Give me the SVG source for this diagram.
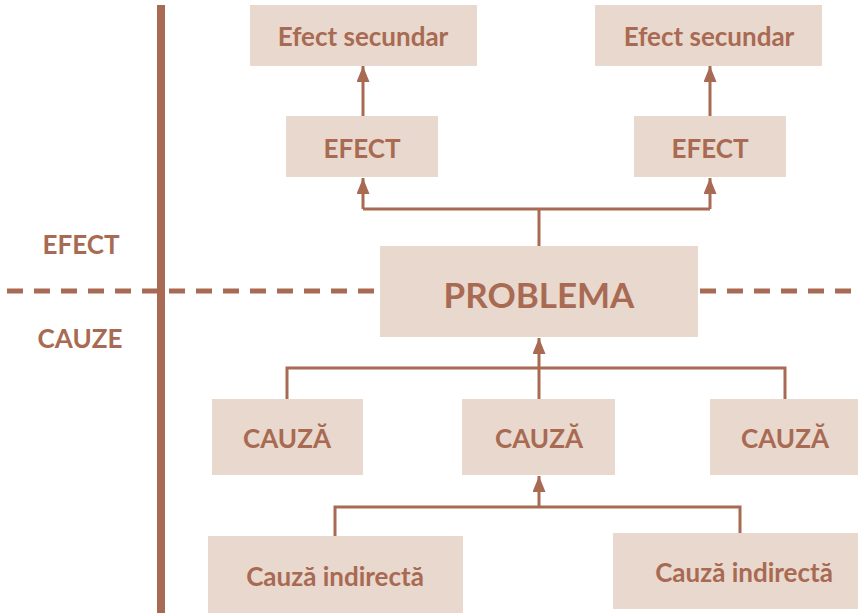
<svg xmlns="http://www.w3.org/2000/svg" width="858" height="613" viewBox="0 0 858 613">
  <style>
    .box { fill: #E8D8CD; }
    .t { font-family: Lato, "Open Sans", "Liberation Sans", sans-serif; font-weight: bold; fill: #A86A52; text-anchor: middle; }
    .s { font-size: 26px; }
    .big { font-size: 35px; }
    .conn { fill: none; stroke: #A86A52; stroke-width: 3; }
    .arrow { stroke: #A86A52; stroke-width: 3; marker-end: url(#ah); }
  </style>
  <defs>
    <marker id="ah" viewBox="0 0 10 10" refX="10" refY="5" markerUnits="userSpaceOnUse" markerWidth="16" markerHeight="13" preserveAspectRatio="none" orient="auto">
      <path d="M0,0 L10,5 L0,10 Z" fill="#A86A52"/>
    </marker>
  </defs>
  <rect width="858" height="613" fill="#FFFFFF"/>

  <!-- axis lines -->
  <g id="axes">
    <line x1="161" y1="5" x2="161" y2="613" stroke="#A86A52" stroke-width="8"/>
    <line x1="7" y1="291" x2="380" y2="291" stroke="#A86A52" stroke-width="5" stroke-dasharray="16 11"/>
    <line x1="700" y1="291" x2="858" y2="291" stroke="#A86A52" stroke-width="5" stroke-dasharray="16 11"/>
  </g>

  <g id="label-efect"><text class="t s" x="81" y="254">EFECT</text></g>
  <g id="label-cauze"><text class="t s" x="80" y="348">CAUZE</text></g>

  <!-- connectors -->
  <g id="connectors">
    <line class="arrow" x1="363" y1="116" x2="363" y2="66"/>
    <line class="arrow" x1="710" y1="116" x2="710" y2="66"/>
    <polyline class="conn" points="539,246 539,209"/>
    <polyline class="conn" points="363,209 710,209"/>
    <line class="arrow" x1="363" y1="209" x2="363" y2="178"/>
    <line class="arrow" x1="710" y1="209" x2="710" y2="178"/>
    <polyline class="conn" points="287,399 287,368 785,368 785,399"/>
    <line class="arrow" x1="539" y1="399" x2="539" y2="338"/>
    <polyline class="conn" points="335,536 335,507 740,507 740,533"/>
    <line class="arrow" x1="539" y1="507" x2="539" y2="476"/>
  </g>

  <g id="efect-secundar-1">
    <rect class="box" x="250" y="5" width="227" height="61"/>
    <text class="t s" x="363" y="46">Efect secundar</text>
  </g>
  <g id="efect-secundar-2">
    <rect class="box" x="595" y="5" width="227" height="61"/>
    <text class="t s" x="709" y="46">Efect secundar</text>
  </g>
  <g id="efect-1">
    <rect class="box" x="286" y="116" width="152" height="61"/>
    <text class="t s" x="362" y="158">EFECT</text>
  </g>
  <g id="efect-2">
    <rect class="box" x="634" y="116" width="152" height="61"/>
    <text class="t s" x="710" y="158">EFECT</text>
  </g>
  <g id="problema">
    <rect class="box" x="380" y="246" width="318" height="91"/>
    <text class="t big" x="539" y="308">PROBLEMA</text>
  </g>
  <g id="cauza-1">
    <rect class="box" x="212" y="399" width="151" height="76"/>
    <text class="t s" x="287" y="448">CAUZĂ</text>
  </g>
  <g id="cauza-2">
    <rect class="box" x="462" y="399" width="153" height="76"/>
    <text class="t s" x="539" y="448">CAUZĂ</text>
  </g>
  <g id="cauza-3">
    <rect class="box" x="710" y="399" width="148" height="76"/>
    <text class="t s" x="785" y="448">CAUZĂ</text>
  </g>
  <g id="cauza-indirecta-1">
    <rect class="box" x="208" y="536" width="255" height="77"/>
    <text class="t s" x="335" y="586">Cauză indirectă</text>
  </g>
  <g id="cauza-indirecta-2">
    <rect class="box" x="613" y="533" width="245" height="76"/>
    <text class="t s" x="744" y="582">Cauză indirectă</text>
  </g>
</svg>
